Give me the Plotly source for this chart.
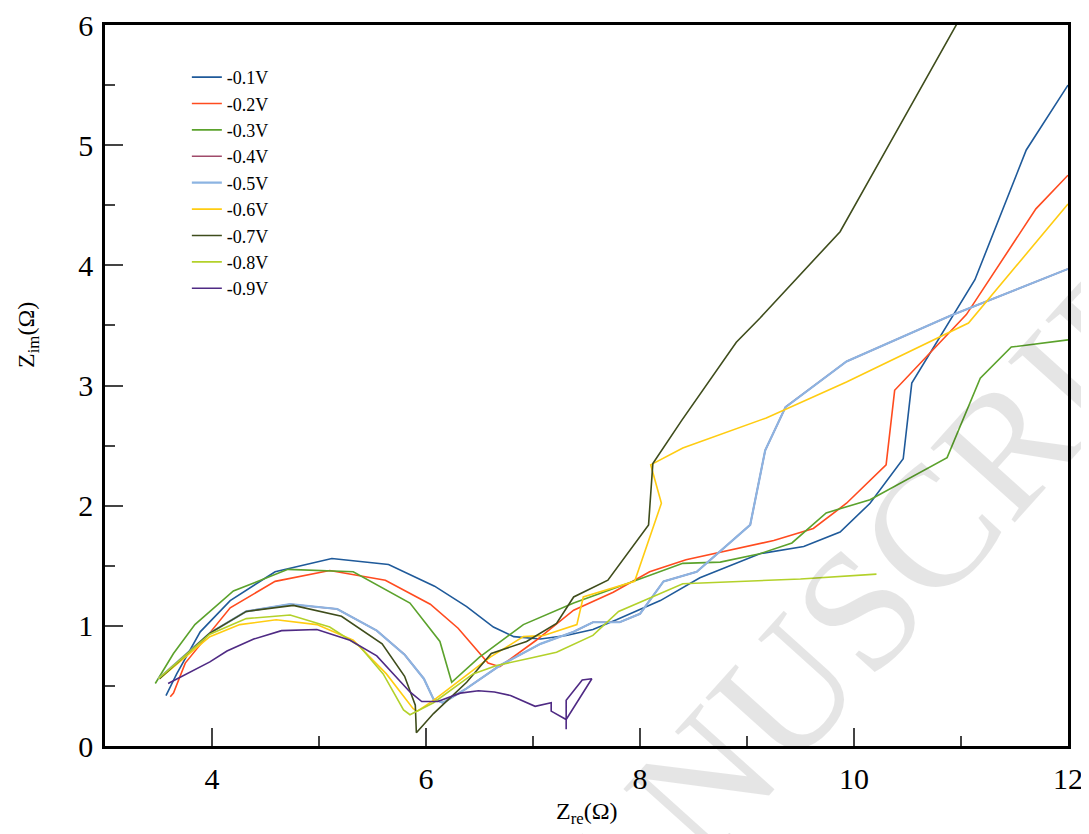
import plotly.graph_objects as go

labels = ["-0.1V", "-0.2V", "-0.3V", "-0.4V", "-0.5V", "-0.6V", "-0.7V", "-0.8V", "-0.9V"]
colors = ["#1f5a9a", "#ff4b1f", "#5ba22c", "#a04a6a", "#8cb4e2", "#ffcc11", "#3f4d1c", "#b3d12a", "#4f2a84"]

x01 = [3.57, 3.67, 3.89, 4.17, 4.59, 5.12, 5.65, 6.08, 6.38, 6.63, 6.82, 7.07, 7.31, 7.56, 7.78, 8.19, 8.56, 9.12, 9.53, 9.87, 10.15, 10.46, 10.54, 11.13, 11.61, 12.0]
y01 = [0.42, 0.60, 0.95, 1.21, 1.45, 1.56, 1.51, 1.33, 1.16, 0.99, 0.91, 0.89, 0.92, 0.97, 1.05, 1.21, 1.40, 1.60, 1.66, 1.78, 2.02, 2.39, 3.02, 3.88, 4.96, 5.50]

x02 = [3.61, 3.64, 3.75, 4.17, 4.59, 5.10, 5.62, 6.04, 6.30, 6.58, 6.69, 7.03, 7.38, 7.75, 8.09, 8.43, 9.25, 9.62, 9.93, 10.30, 10.38, 11.05, 11.70, 12.0]
y02 = [0.41, 0.44, 0.69, 1.15, 1.37, 1.46, 1.38, 1.18, 0.98, 0.69, 0.66, 0.88, 1.13, 1.28, 1.45, 1.55, 1.71, 1.81, 2.02, 2.34, 2.96, 3.59, 4.47, 4.75]

x03 = [3.47, 3.64, 3.84, 4.20, 4.71, 5.32, 5.85, 6.13, 6.24, 6.50, 6.91, 7.38, 7.94, 8.40, 8.75, 9.12, 9.42, 9.74, 10.15, 10.87, 11.18, 11.47, 12.0]
y03 = [0.52, 0.77, 1.01, 1.29, 1.47, 1.45, 1.19, 0.87, 0.53, 0.74, 1.01, 1.19, 1.37, 1.52, 1.53, 1.60, 1.69, 1.94, 2.05, 2.40, 3.06, 3.32, 3.38]

x05 = [3.50, 3.98, 4.32, 4.73, 5.17, 5.54, 5.80, 5.98, 6.07, 6.16, 6.38, 6.69, 7.07, 7.38, 7.56, 7.81, 8.00, 8.22, 8.53, 9.03, 9.17, 9.36, 9.93, 10.90, 12.0]
y05 = [0.56, 0.94, 1.12, 1.18, 1.14, 0.96, 0.76, 0.56, 0.39, 0.36, 0.48, 0.67, 0.85, 0.95, 1.03, 1.03, 1.10, 1.37, 1.45, 1.84, 2.46, 2.82, 3.20, 3.58, 3.97]

# -0.4V lies underneath -0.5V (not distinguishable in the figure)
x04 = list(x05)
y04 = list(y05)

x06 = [3.51, 3.98, 4.26, 4.60, 4.98, 5.32, 5.63, 5.88, 5.92, 6.07, 6.60, 6.91, 7.10, 7.41, 7.47, 7.95, 8.20, 8.10, 8.40, 9.18, 9.93, 11.07, 12.0]
y06 = [0.56, 0.91, 1.01, 1.05, 1.01, 0.88, 0.60, 0.31, 0.29, 0.38, 0.74, 0.91, 0.92, 1.01, 1.24, 1.37, 2.02, 2.34, 2.48, 2.73, 3.03, 3.52, 4.51]

x07 = [3.51, 3.98, 4.32, 4.76, 5.21, 5.59, 5.80, 5.90, 5.91, 6.07, 6.38, 6.61, 6.94, 7.22, 7.38, 7.70, 8.08, 8.12, 8.39, 8.90, 9.12, 9.87, 10.30, 11.05]
y07 = [0.56, 0.94, 1.12, 1.17, 1.08, 0.85, 0.58, 0.34, 0.11, 0.27, 0.53, 0.77, 0.87, 1.02, 1.24, 1.38, 1.84, 2.35, 2.71, 3.36, 3.56, 4.28, 4.96, 6.15]

x08 = [3.50, 3.98, 4.32, 4.73, 5.10, 5.38, 5.60, 5.79, 5.85, 6.07, 6.44, 6.66, 6.97, 7.22, 7.56, 7.80, 8.06, 8.40, 9.50, 10.21]
y08 = [0.56, 0.93, 1.06, 1.09, 0.99, 0.83, 0.60, 0.30, 0.26, 0.36, 0.60, 0.67, 0.73, 0.78, 0.92, 1.12, 1.22, 1.35, 1.39, 1.43]

x09 = [3.59, 3.98, 4.14, 4.39, 4.65, 4.98, 5.29, 5.54, 5.85, 5.96, 6.11, 6.32, 6.49, 6.64, 6.79, 7.02, 7.17, 7.17, 7.31, 7.31, 7.46, 7.55, 7.31, 7.31]
y09 = [0.52, 0.70, 0.79, 0.89, 0.96, 0.97, 0.88, 0.75, 0.45, 0.37, 0.37, 0.44, 0.46, 0.45, 0.42, 0.33, 0.36, 0.29, 0.22, 0.38, 0.55, 0.56, 0.22, 0.14]

xs = [x01, x02, x03, x04, x05, x06, x07, x08, x09]
ys = [y01, y02, y03, y04, y05, y06, y07, y08, y09]

x_ticks = [4, 6, 8, 10, 12]
x_minor = [5, 7, 9, 11]
y_ticks = [0, 1, 2, 3, 4, 5, 6]

fig = go.Figure()
for lab, col, xv, yv in zip(labels, colors, xs, ys):
    fig.add_trace(go.Scatter(x=xv, y=yv, mode="lines", name=lab,
                             line=dict(color=col, width=1.6 if lab != "-0.5V" else 2.2)))

serif = "Liberation Serif, Times New Roman, serif"

fig.update_layout(
    width=1081, height=826,
    margin=dict(l=97, r=21, t=17, b=88),
    paper_bgcolor="white", plot_bgcolor="white",
    font=dict(family=serif, color="black"),
    showlegend=True,
    legend=dict(x=0.085, y=0.953, xanchor="left", yanchor="top",
                bgcolor="rgba(0,0,0,0)", font=dict(family=serif, size=18, color="black"),
                tracegroupgap=0),
    xaxis=dict(range=[3, 12], tickvals=x_ticks, ticks="inside", ticklen=18, tickwidth=2,
               showline=True, linewidth=2.5, linecolor="black", mirror=True,
               showgrid=False, zeroline=False, automargin=False, ticklabelstandoff=4,
               tickfont=dict(family=serif, size=30, color="black"),
               minor=dict(tickvals=x_minor, ticks="inside", ticklen=10, tickwidth=2, showgrid=False)),
    yaxis=dict(range=[0, 6], tickvals=y_ticks, ticks="inside", ticklen=18, tickwidth=2,
               showline=True, linewidth=2.5, linecolor="black", mirror=True,
               showgrid=False, zeroline=False, automargin=False, ticklabelstandoff=3,
               tickfont=dict(family=serif, size=30, color="black"),
               minor=dict(dtick=0.5, ticks="inside", ticklen=10, tickwidth=2, showgrid=False)),
)

fig.add_annotation(text="Z<sub>re</sub>(Ω)", xref="paper", yref="paper",
                   x=0.5, y=-0.069, xanchor="center", yanchor="top", showarrow=False,
                   font=dict(family=serif, size=24, color="black"))
fig.add_annotation(text="Z<sub>im</sub>(Ω)", xref="paper", yref="paper",
                   x=-0.08, y=0.570, xanchor="center", yanchor="middle", showarrow=False,
                   textangle=-90, font=dict(family=serif, size=24, color="black"))
fig.add_annotation(text="MANUSCRIPT", xref="paper", yref="paper",
                   x=0.77, y=0.17, xanchor="center", yanchor="middle", showarrow=False,
                   textangle=-48, font=dict(family=serif, size=172, color="rgba(0,0,0,0.10)"))

fig.write_html("out.html")
